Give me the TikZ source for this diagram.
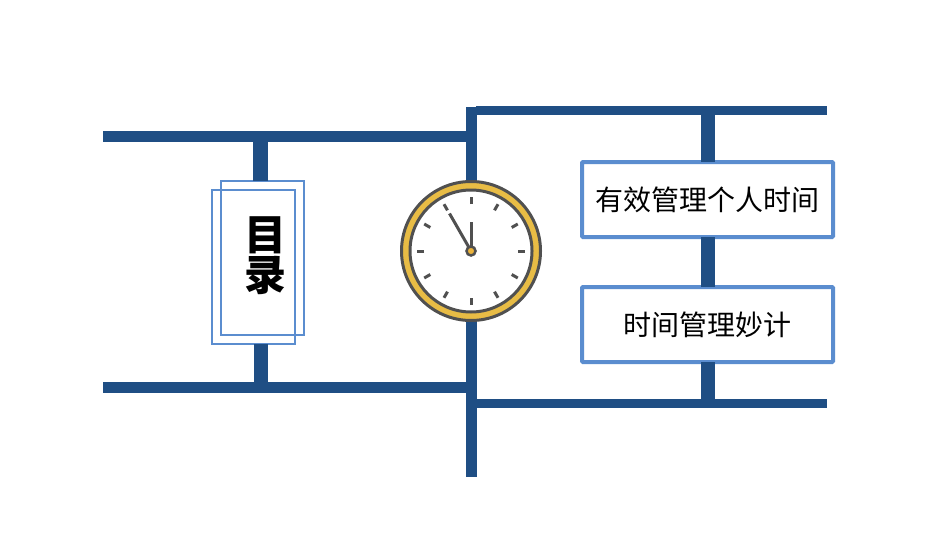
\documentclass[tikz,border=0pt]{standalone}
\usepackage{fontspec}
\setmainfont{Noto Sans CJK SC}
\usepackage{xcolor}
\usetikzlibrary{calc}
\definecolor{barblue}{HTML}{1F4E84}
\definecolor{boxblue}{HTML}{5B8DCF}
\definecolor{ringgold}{HTML}{E8BC45}
\definecolor{clockgray}{HTML}{505050}

\begin{document}
\begin{tikzpicture}[
x=1pt, y=-1pt,
   Bar/.style = {draw=barblue, line width=#1},
   Toc/.style = {rectangle, draw=boxblue, line width=2pt,
                 minimum width=83pt, minimum height=154pt, outer sep=0pt},
  Item/.style = {rectangle, draw=boxblue, line width=4pt, fill=white, rounded corners=1pt,
                 minimum width=251pt, minimum height=75pt, outer sep=0pt,
                 font=\fontsize{28pt}{32pt}\selectfont},
  Hand/.style = {clockgray, line width=3pt},
                        ]
\useasboundingbox (0,0) rectangle (950,535);
% bar ends
\coordinate (LT) at (103,136.5);
\coordinate (LTe) at (466,136.5);
\coordinate (LB) at (103,387.5);
\coordinate (LBe) at (466,387.5);
\coordinate (MT) at (471,107);
\coordinate (MB) at (471,477);
\coordinate (RT) at (476,110.5);
\coordinate (RTe) at (827,110.5);
\coordinate (RB) at (476,403.5);
\coordinate (RBe) at (827,403.5);
\coordinate (LTj) at (260.5,142);
\coordinate (LBj) at (261,382);
\coordinate (RTj) at (708,115);
\coordinate (RBj) at (708,399);
\draw[Bar=11pt] (LT) -- (LTe);
\draw[Bar=11pt] (LB) -- (LBe);
\draw[Bar=11pt] (MT) -- (MB);
\draw[Bar=9pt] (RT) -- (RTe);
\draw[Bar=9pt] (RB) -- (RBe);
% boxes
\node[Toc] (tocback) at (262,257.5) {};
\node[Toc] (tocfront) at (253,266.5) {};
\node[font=\fontsize{42pt}{40pt}\selectfont\bfseries, align=center, inner sep=0pt] (toclabel)
    at (265,255.5) {目\\录};
\node[Item] (manage) at (707.5,199.5) {有效管理个人时间};
\node[Item] (tips) at (707.5,324.5) {时间管理妙计};
\draw[Bar=15pt] (LTj) -- (LTj |- tocback.north);
\draw[Bar=14pt] (LBj) -- (LBj |- tocfront.south);
\draw[Bar=14pt] (RTj) -- (manage.north -| RTj);
\draw[Bar=14pt] (manage.south -| RTj) -- (tips.north -| RTj);
\draw[Bar=14pt] (tips.south -| RTj) -- (RBj);
% clock
\node[circle, draw=clockgray, line width=3pt, fill=ringgold, minimum size=139pt, inner sep=0pt] (rim) at (471,251) {};
\node[circle, draw=clockgray, line width=3pt, fill=white, minimum size=122pt, inner sep=0pt] (face) at (rim.center) {};
\foreach \a in {0,30,...,330}
    \draw[Hand] ($(face.center)+(\a:47)$) -- ($(face.center)+(\a:54)$);
\coordinate (minute) at (471,222);
\coordinate (hour) at (449.5,213.5);
\draw[Hand] (face.center) -- (minute);
\draw[Hand] (face.center) -- (hour);
\node[circle, draw=clockgray, line width=2.5pt, fill=ringgold!85!orange, minimum size=9pt, inner sep=0pt] (hub) at (face.center) {};
\end{tikzpicture}
\end{document}
